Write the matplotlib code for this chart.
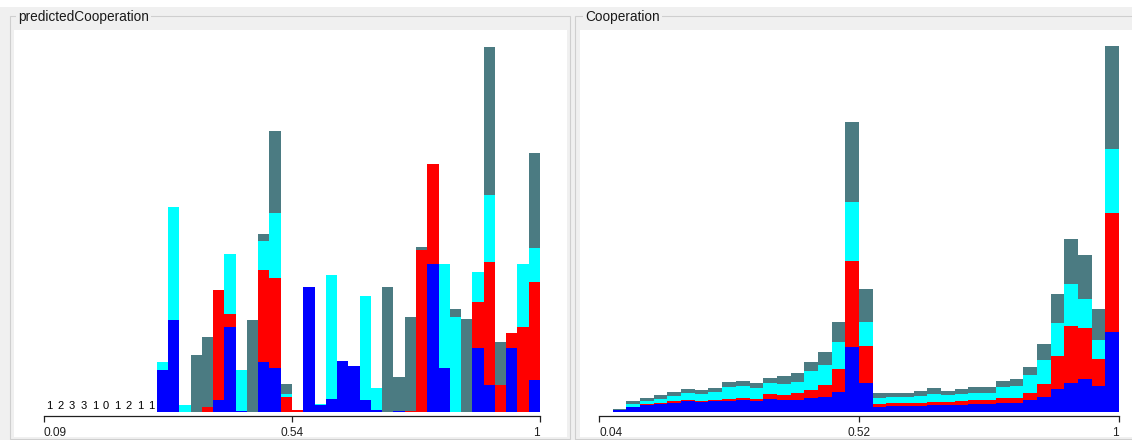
"""Stacked class histograms for two attributes (predicted vs actual cooperation).

Two side-by-side panels in the style of a desktop attribute viewer: each bin is a
stack of four class counts, with a plain axis showing min, mid and max.
"""
import matplotlib
matplotlib.use("Agg")  # headless
import matplotlib.pyplot as plt
from matplotlib.patches import Rectangle

W, H = 1132, 440
plt.rcParams["font.family"] = ["Liberation Sans", "DejaVu Sans"]

CLASS_COLORS = ["#0000ff", "#ff0000", "#00ffff", "#4b7b82"]

# --- predictedCooperation: 44 bins over [0.09, 1]; bins 0-9 are only counts ---
LEFT_RANGE = (0.09, 1.0)
LEFT_NBINS = 44
LEFT_SMALL_COUNTS = [1, 2, 3, 3, 1, 0, 1, 2, 1, 1]
LEFT_FIRST_BAR = 10
LEFT_TICKS = ["0.09", "0.54", "1"]
LEFT_BLUE = [42.3, 92.3, 0, 0, 0, 12.3, 85.6, 1.5, 0, 50, 44.6, 0, 0, 125.6, 7.3, 13.3, 51.6,
             46.6, 12.3, 2.3, 0, 1, 0, 0, 148.3, 44.6, 0, 0, 64.6, 27.3, 0, 64.6, 0, 32.3]
LEFT_RED = [0, 0, 0, 0, 5.6, 110, 12.4, 0, 0, 92.3, 89.4, 15.6, 2.5, 0, 0, 0, 0,
            0, 0, 0, 0, 0, 1.5, 162.3, 100, 0, 0, 0, 46, 123.3, 27, 15, 85, 98.3]
LEFT_CYAN = [8.3, 113.3, 7.3, 0, 0, 0, 60.3, 40.8, 0, 29.3, 65.6, 2.7, 0, 0, 1, 124, 0,
             0, 104.3, 22.3, 0, 0, 0, 0, 0, 103.7, 95, 0, 29.4, 66.7, 0, 0, 63.3, 34]
LEFT_GRAY = [0, 0, 0, 57.3, 69.4, 0, 0, 0, 92.3, 6.4, 82, 10, 0, 0, 0, 0, 0,
             0, 0, 0, 125.6, 34.6, 94.1, 3.3, 0, 0, 8, 93, 0.6, 148.3, 43.6, 0, 0, 94.7]

# --- Cooperation: 38 bins over [0.04, 1]; bin 0 empty ---
RIGHT_RANGE = (0.04, 1.0)
RIGHT_NBINS = 38
RIGHT_FIRST_BAR = 1
RIGHT_TICKS = ["0.04", "0.52", "1"]
RIGHT_BLUE = [2, 5.6, 7.6, 8.6, 9.6, 11, 10.3, 11, 11.6, 12, 11.6, 13, 12.6, 12.3, 14, 15.6,
              20.6, 65.6, 29.6, 5.6, 6.3, 6.3, 6.6, 7, 7, 7.6, 8, 8, 9, 9.3, 12.3, 15.6,
              23.3, 29.6, 33, 26.3, 80.6]
RIGHT_RED = [0, 0, 0.4, 0.7, 1.4, 1.3, 1.3, 1.3, 2, 2.3, 2, 5.3, 4.4, 7, 8.3, 11.7,
             22.4, 86, 36.7, 2.7, 2.7, 2.7, 3, 3.3, 3.3, 3.7, 4, 4, 5, 5.3, 7.3, 12.7,
             33, 56.7, 51, 26.7, 119]
RIGHT_CYAN = [0, 2.7, 3.6, 4.3, 5.3, 6.7, 6.4, 8.3, 12, 12, 11, 10.7, 11, 11, 19.3, 20,
              27.6, 59, 24.3, 6.3, 6, 6.6, 7, 7.7, 7, 7, 7, 7.6, 11, 11.7, 17.7, 24,
              33.3, 42, 29, 19.3, 63.4]
RIGHT_GRAY = [1, 2.7, 2.7, 3.4, 3.7, 4.3, 4.3, 4, 4.4, 4.7, 4.7, 5.6, 8, 9, 9, 13.3,
              20, 80, 32.4, 5, 4, 4, 5, 6.6, 4.3, 5, 6.6, 6, 6.6, 6.7, 8.3, 16,
              28.7, 45, 44.3, 30.7, 103.6]


def _rect(x0, y0, x1, y1):
    """Pixel box (top-left origin) -> figure-fraction rect."""
    return [x0 / W, 1 - y1 / H, (x1 - x0) / W, (y1 - y0) / H]


def _panel(fig, box, title, title_x):
    x0, y0, x1, y1 = box
    fig.add_artist(Rectangle((x0 / W, 1 - y1 / H), (x1 - x0) / W, (y1 - y0) / H,
                             transform=fig.transFigure, fill=False,
                             edgecolor="#cfcfcf", linewidth=0.8, zorder=-6))
    fig.add_artist(Rectangle(((x0 + 4) / W, 1 - (y1 - 2) / H), (x1 - x0 - 7) / W,
                             (y1 - y0 - 16) / H, transform=fig.transFigure,
                             facecolor="white", edgecolor="none", zorder=-5))
    fig.text(title_x / W, 1 - (y0 + 0.5) / H, title, fontsize=9.8, color="#1a1a1a",
             va="center", ha="left",
             bbox=dict(facecolor="#f0f0f0", edgecolor="none", pad=1.5))


def _histogram(fig, px, rng, nbins, first, series, tick_labels, small_counts=None):
    ax = fig.add_axes(_rect(px[0], 40, px[1], 415.5))
    lo, hi = rng
    bw = (hi - lo) / nbins
    lefts = [lo + (first + i) * bw for i in range(len(series[0]))]
    bottom = [0.0] * len(lefts)
    for vals, color in zip(series, CLASS_COLORS):
        ax.bar(lefts, vals, width=bw, bottom=bottom, align="edge", color=color,
               linewidth=0, antialiased=False)
        bottom = [b + v for b, v in zip(bottom, vals)]

    if small_counts:
        for i, c in enumerate(small_counts):
            ax.text(lo + (i + 0.5) * bw, 1.5, str(c), ha="center", va="bottom",
                    fontsize=8, color="black")

    ax.set_xlim(lo, hi)
    ax.set_ylim(-3.2, 372.3)
    ax.patch.set_visible(False)
    for side in ("top", "left", "right"):
        ax.spines[side].set_visible(False)
    ax.spines["bottom"].set_color("#202020")
    ax.spines["bottom"].set_linewidth(0.9)
    ax.set_yticks([])
    ax.set_xticks([lo, (lo + hi) / 2, hi])
    ax.set_xticklabels(tick_labels)
    ax.tick_params(axis="x", direction="out", length=4.5, width=0.9, pad=4,
                   labelsize=8.6, colors="#202020")
    for lab, ha in zip(ax.get_xticklabels(), ("left", "center", "right")):
        lab.set_ha(ha)
    return ax


fig = plt.figure(figsize=(W / 100, H / 100), dpi=100)
fig.patch.set_facecolor("#f0f0f0")
fig.add_artist(Rectangle((0, 1 - 7 / H), 1, 7 / H, transform=fig.transFigure,
                         facecolor="white", edgecolor="none", zorder=-7))

_panel(fig, (10, 16, 569.5, 439), "predictedCooperation", 18)
_panel(fig, (575.5, 16, 1140, 439), "Cooperation", 585)

_histogram(fig, (44, 540), LEFT_RANGE, LEFT_NBINS, LEFT_FIRST_BAR,
           [LEFT_BLUE, LEFT_RED, LEFT_CYAN, LEFT_GRAY], LEFT_TICKS, LEFT_SMALL_COUNTS)
_histogram(fig, (599, 1119), RIGHT_RANGE, RIGHT_NBINS, RIGHT_FIRST_BAR,
           [RIGHT_BLUE, RIGHT_RED, RIGHT_CYAN, RIGHT_GRAY], RIGHT_TICKS)

fig.savefig("out.png", dpi=100, facecolor=fig.get_facecolor())
